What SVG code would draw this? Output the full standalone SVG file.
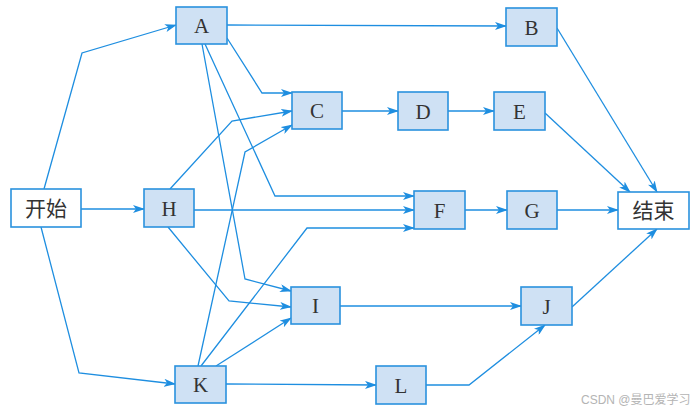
<svg xmlns="http://www.w3.org/2000/svg" width="697" height="412" viewBox="0 0 697 412">
<defs>
<marker id="ah" markerWidth="12" markerHeight="8" refX="11" refY="4" orient="auto" markerUnits="userSpaceOnUse">
<path d="M0,0 L12,4 L0,8 L3,4 Z" fill="#1e8ee0"/>
</marker>
</defs>
<style>
.n{fill:#cfe1f4;stroke:#2a92de;stroke-width:1.6}
.w{fill:#ffffff;stroke:#2a92de;stroke-width:1.6}
.t{font-family:"Liberation Serif","Times New Roman",serif;font-size:21px;fill:#333;text-anchor:middle}
.c{font-family:"Noto Sans CJK SC","Noto Sans",sans-serif;font-size:21px;fill:#333;text-anchor:middle}
.e{fill:none;stroke:#1e8ee0;stroke-width:1.3;marker-end:url(#ah)}
.wm{font-family:"Liberation Sans","Noto Sans CJK SC",sans-serif;font-size:12px;fill:#b4b4b4}
</style>
<rect width="697" height="412" fill="#ffffff"/>
<g id="edges">
<polyline class="e" points="44,189 82,53 176,25"/>
<polyline class="e" points="81,209 144,209"/>
<polyline class="e" points="41,227 79,373 175,384"/>
<polyline class="e" points="227,25 506,26"/>
<polyline class="e" points="227,38 262,93 292,93"/>
<polyline class="e" points="202,44 245,279 291,291"/>
<polyline class="e" points="205,44 275,196 414,196"/>
<polyline class="e" points="170,189 232,121 292,111"/>
<polyline class="e" points="194,210 414,210"/>
<polyline class="e" points="168,227 229,301 291,307"/>
<polyline class="e" points="198,366 245,152 292,125"/>
<polyline class="e" points="201,366 307,228 414,228"/>
<polyline class="e" points="216,366 291,318"/>
<polyline class="e" points="226,384 376,385"/>
<polyline class="e" points="342,111 398,111"/>
<polyline class="e" points="448,111 494,111"/>
<polyline class="e" points="465,210 507,210"/>
<polyline class="e" points="557,210 618,210"/>
<polyline class="e" points="340,306 521,306"/>
<polyline class="e" points="426,385 469,385 545,325"/>
<polyline class="e" points="557,28 657,192"/>
<polyline class="e" points="545,113 630,192"/>
<polyline class="e" points="572,307 657,229"/>
</g>
<g id="start"><rect class="w" x="11" y="189" width="70" height="38"/><text class="c" x="46" y="216">开始</text></g>
<g id="end"><rect class="w" x="618" y="192" width="71" height="37"/><text class="c" x="653.5" y="218">结束</text></g>
<g id="A"><rect class="n" x="176" y="7" width="51" height="37"/><text class="t" x="201.5" y="33">A</text></g>
<g id="B"><rect class="n" x="506" y="8" width="51" height="38"/><text class="t" x="531.5" y="34.5">B</text></g>
<g id="C"><rect class="n" x="292" y="92" width="50" height="37"/><text class="t" x="317" y="118">C</text></g>
<g id="D"><rect class="n" x="398" y="92" width="50" height="38"/><text class="t" x="423" y="118.5">D</text></g>
<g id="E"><rect class="n" x="494" y="92" width="51" height="38"/><text class="t" x="519.5" y="118.5">E</text></g>
<g id="H"><rect class="n" x="144" y="189" width="50" height="38"/><text class="t" x="169" y="215.5">H</text></g>
<g id="F"><rect class="n" x="414" y="191" width="51" height="38"/><text class="t" x="439.5" y="217.5">F</text></g>
<g id="G"><rect class="n" x="507" y="191" width="50" height="38"/><text class="t" x="532" y="217.5">G</text></g>
<g id="I"><rect class="n" x="291" y="287" width="49" height="37"/><text class="t" x="315.5" y="313">I</text></g>
<g id="J"><rect class="n" x="521" y="287" width="51" height="38"/><text class="t" x="546.5" y="313.5">J</text></g>
<g id="K"><rect class="n" x="175" y="366" width="51" height="37"/><text class="t" x="200.5" y="392">K</text></g>
<g id="L"><rect class="n" x="376" y="366" width="50" height="38"/><text class="t" x="401" y="392.5">L</text></g>
<text class="wm" x="581" y="404">CSDN @曼巴爱学习</text>
</svg>
